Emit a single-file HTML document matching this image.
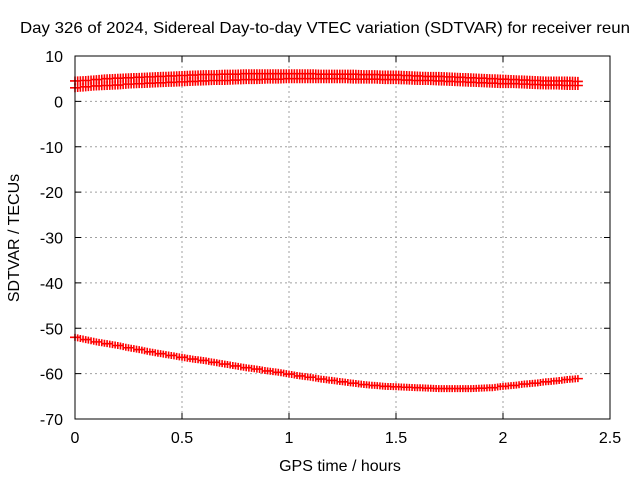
<!DOCTYPE html>
<html><head><meta charset="utf-8"><style>
body{margin:0;background:#fff;}
svg{display:block;font-family:"Liberation Sans",sans-serif;font-size:16px;}
</style></head><body>
<svg id="chart" width="640" height="480" viewBox="0 0 640 480">
<rect width="640" height="480" fill="#fff"/>
<text x="20" y="33" textLength="610" lengthAdjust="spacingAndGlyphs">Day 326 of 2024, Sidereal Day-to-day VTEC variation (SDTVAR) for receiver reun</text>
<g id="grid"></g><g id="series"></g><g id="axes"></g>
<text x="340" y="471" text-anchor="middle">GPS time / hours</text>
<text transform="translate(19,238) rotate(-90)" text-anchor="middle">SDTVAR / TECUs</text>
</svg>
<script>
const xTicks=[0,0.5,1,1.5,2,2.5];
const xTickLabels=["0","0.5","1","1.5","2","2.5"];
const yTicks=[10,0,-10,-20,-30,-40,-50,-60,-70];
const yTickLabels=["10","0","-10","-20","-30","-40","-50","-60","-70"];
const timeStep=0.05;
const seriesBottom=[-52,-52.5,-53,-53.4,-53.8,-54.3,-54.7,-55.2,-55.6,-56,-56.4,-56.8,-57.1,-57.5,-57.9,-58.3,-58.7,-59,-59.4,-59.7,-60.1,-60.5,-60.8,-61.2,-61.5,-61.8,-62.1,-62.4,-62.6,-62.8,-62.9,-63,-63.1,-63.2,-63.3,-63.3,-63.3,-63.3,-63.2,-63.1,-62.8,-62.6,-62.3,-62.1,-61.8,-61.6,-61.3,-61.1];
const seriesTopA=[4.5,4.6,4.8,5,5.1,5.2,5.3,5.4,5.5,5.6,5.7,5.8,5.9,5.9,6,6,6.1,6.1,6.1,6.1,6.1,6.1,6.1,6,6,6,6,5.9,5.9,5.8,5.8,5.7,5.6,5.5,5.5,5.4,5.3,5.2,5.1,5,4.9,4.8,4.7,4.6,4.5,4.5,4.5,4.4];
const seriesTopB=[3,3.2,3.4,3.5,3.6,3.8,3.9,4,4.1,4.2,4.3,4.4,4.5,4.6,4.6,4.7,4.8,4.8,4.9,4.9,5,5,5,5,5,5,4.9,4.9,4.9,4.8,4.8,4.7,4.6,4.6,4.5,4.4,4.3,4.2,4.1,4,3.9,3.9,3.8,3.7,3.6,3.6,3.5,3.5];

const L=75,R=610,T=56,B=419;
const xs=v=>L+(v-0)/(2.5-0)*(R-L);
const ys=v=>T+(10-v)/(10-(-70))*(B-T);
const NS="http://www.w3.org/2000/svg";
function mk(tag,attrs,parent){const e=document.createElementNS(NS,tag);for(const k in attrs)e.setAttribute(k,attrs[k]);parent.appendChild(e);return e;}
const grid=document.getElementById('grid'),axes=document.getElementById('axes'),ser=document.getElementById('series');
xTicks.forEach((v,i)=>{const x=xs(v);
 if(i>0&&i<xTicks.length-1){const g=mk('line',{x1:x,x2:x,y1:T,y2:B,stroke:'#a0a0a0','stroke-dasharray':'2,3'},grid);
 
 }
 mk('line',{x1:x,x2:x,y1:B,y2:B-6,stroke:'#000'},axes);mk('line',{x1:x,x2:x,y1:T,y2:T+6,stroke:'#000'},axes);
 const t=mk('text',{x:x,y:B+24,'text-anchor':'middle'},axes);t.textContent=xTickLabels[i];
 
 });
yTicks.forEach((v,i)=>{const y=ys(v);
 if(i>0&&i<yTicks.length-1){const g=mk('line',{x1:L,x2:R,y1:y,y2:y,stroke:'#a0a0a0','stroke-dasharray':'2,3'},grid);
 
 }
 mk('line',{x1:L,x2:L+6,y1:y,y2:y,stroke:'#000'},axes);mk('line',{x1:R,x2:R-6,y1:y,y2:y,stroke:'#000'},axes);
 const t=mk('text',{x:L-12,y:y+6,'text-anchor':'end'},axes);t.textContent=yTickLabels[i];
 
 });
const frame=mk('rect',{x:L,y:T,width:R-L,height:B-T,fill:'none',stroke:'#000'},axes);


function drawSeries(arr,name,vh){
 const g=mk('g',{},ser);
 
 
 let d='';
 arr.forEach((v,i)=>{const x=xs(i*timeStep),y=ys(v);
  d+=`M${x-5},${y}H${x+5}M${x},${y-vh}V${y+vh}`;
  if(i<arr.length-1){const x2=xs((i+1)*timeStep),y2=ys(arr[i+1]);
   for(let k=1;k<4;k++){const xm=x+(x2-x)*k/4,ym=y+(y2-y)*k/4;d+=`M${xm},${ym-vh}V${ym+vh}`;}}
 });
 mk('path',{d:d,stroke:'#ff0000','stroke-width':1.6,fill:'none'},g);
}
drawSeries(seriesTopA,'series-top-upper',4.5);
drawSeries(seriesTopB,'series-top-lower',4.5);
drawSeries(seriesBottom,'series-bottom',3.5);
</script>
</body></html>
